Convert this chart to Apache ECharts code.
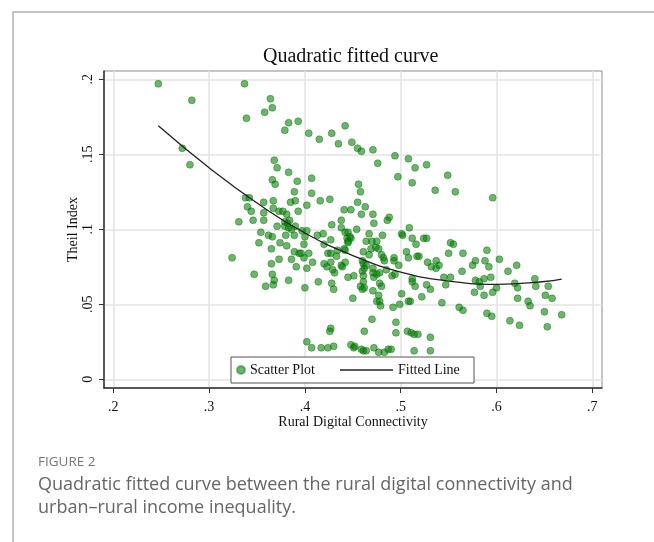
<!DOCTYPE html>
<html>
<head>
<meta charset="utf-8">
<script src="https://cdn.jsdelivr.net/npm/echarts@6/dist/echarts.min.js"></script>
<style>
html,body{margin:0;padding:0;background:#fff;}
#chart{width:654px;height:542px;}
</style>
</head>
<body>
<div id="chart"></div>
<script>
// rural digital connectivity (x) and Theil index (y)
var connectivity = [
	0.247,0.282,0.272,0.280,0.337,0.364,0.366,0.358,0.339,0.383,
	0.393,0.379,0.368,0.371,0.383,0.366,0.369,0.392,0.389,0.338,
	0.342,0.357,0.367,0.385,0.390,0.340,0.344,0.367,0.373,0.377,
	0.381,0.393,0.404,0.415,0.428,0.442,0.435,0.449,0.455,0.459,
	0.471,0.476,0.494,0.508,0.515,0.527,0.497,0.512,0.536,0.407,
	0.407,0.402,0.416,0.426,0.456,0.458,0.455,0.463,0.441,0.448,
	0.549,0.557,0.596,0.357,0.331,0.346,0.357,0.371,0.379,0.382,
	0.384,0.379,0.383,0.386,0.390,0.397,0.402,0.354,0.362,0.366,
	0.380,0.389,0.400,0.352,0.374,0.381,0.365,0.399,0.389,0.394,
	0.396,0.404,0.324,0.373,0.386,0.399,0.365,0.391,0.402,0.408,
	0.347,0.366,0.368,0.367,0.359,0.383,0.400,0.414,0.428,0.430,
	0.413,0.419,0.420,0.427,0.428,0.424,0.427,0.420,0.423,0.427,
	0.427,0.426,0.402,0.407,0.417,0.424,0.430,
	0.459,0.471,0.488,0.486,0.438,0.438,0.454,0.442,0.445,0.444,
	0.447,0.448,0.445,0.445,0.467,0.481,0.464,0.470,0.475,0.469,
	0.474,0.477,0.461,0.467,0.480,0.482,0.483,0.434,0.441,0.442,
	0.433,0.438,0.442,0.439,0.429,0.431,0.460,0.461,0.462,0.464,
	0.460,0.461,0.471,0.471,0.472,0.475,0.478,0.451,0.445,0.485,
	0.493,0.493,0.498,0.491,0.494,0.458,0.461,0.460,0.462,0.450,
	0.471,0.478,0.480,0.477,0.475,0.478,0.479,0.492,0.499,0.470,
	0.495,0.462,0.495,0.448,0.451,0.452,0.459,0.461,0.464,0.472,
	0.477,0.483,0.487,0.490,0.514,0.531,0.531,0.507,0.511,0.514,
	0.518,0.502,0.501,0.509,0.512,0.516,0.524,0.527,0.506,0.508,
	0.517,0.519,0.528,0.537,0.532,0.512,0.512,0.515,0.527,0.531,
	0.501,0.522,0.510,0.508,0.472,
	0.552,0.555,0.550,0.565,0.540,0.537,0.564,0.575,0.578,0.590,
	0.588,0.592,0.603,0.545,0.552,0.547,0.578,0.582,0.583,0.587,
	0.594,0.577,0.587,0.596,0.600,0.543,0.561,0.565,0.590,0.595,
	0.612,0.621,0.619,0.622,0.622,0.633,0.635,0.614,0.624,0.640,
	0.641,0.654,0.651,0.658,0.650,0.653,0.668
];
var theil = [
	0.197,0.186,0.154,0.143,0.197,0.187,0.181,0.178,0.174,0.171,
	0.172,0.166,0.146,0.141,0.138,0.133,0.130,0.132,0.125,0.121,
	0.121,0.118,0.119,0.118,0.119,0.115,0.112,0.114,0.112,0.112,
	0.110,0.112,0.164,0.160,0.164,0.169,0.157,0.158,0.154,0.152,
	0.153,0.144,0.149,0.147,0.141,0.143,0.135,0.131,0.126,0.134,
	0.124,0.116,0.119,0.120,0.130,0.125,0.118,0.115,0.113,0.113,
	0.136,0.125,0.121,0.111,0.105,0.106,0.106,0.102,0.105,0.104,
	0.106,0.102,0.101,0.100,0.102,0.099,0.099,0.098,0.096,0.095,
	0.096,0.096,0.095,0.091,0.091,0.089,0.087,0.090,0.085,0.084,
	0.084,0.084,0.081,0.080,0.080,0.081,0.077,0.075,0.074,0.078,
	0.070,0.070,0.066,0.063,0.062,0.066,0.061,0.065,0.064,0.060,
	0.096,0.097,0.090,0.093,0.103,0.084,0.084,0.077,0.075,0.078,
	0.034,0.032,0.025,0.021,0.021,0.021,0.022,
	0.110,0.110,0.108,0.106,0.106,0.101,0.100,0.098,0.098,0.094,
	0.095,0.094,0.092,0.091,0.097,0.096,0.092,0.092,0.092,0.087,
	0.088,0.087,0.085,0.083,0.083,0.081,0.079,0.086,0.087,0.086,
	0.082,0.076,0.078,0.075,0.073,0.071,0.079,0.077,0.074,0.076,
	0.072,0.069,0.071,0.074,0.068,0.070,0.071,0.069,0.068,0.073,
	0.081,0.079,0.076,0.069,0.070,0.062,0.065,0.060,0.061,0.054,
	0.059,0.064,0.062,0.056,0.052,0.052,0.049,0.048,0.050,0.040,
	0.038,0.032,0.031,0.023,0.021,0.022,0.020,0.019,0.019,0.021,
	0.018,0.018,0.020,0.020,0.019,0.019,0.028,0.032,0.031,0.030,
	0.030,0.096,0.097,0.101,0.094,0.090,0.094,0.094,0.085,0.081,
	0.082,0.082,0.078,0.079,0.075,0.067,0.065,0.062,0.063,0.060,
	0.057,0.055,0.052,0.052,0.104,
	0.091,0.090,0.084,0.084,0.076,0.074,0.072,0.076,0.079,0.086,
	0.079,0.075,0.080,0.068,0.068,0.063,0.066,0.065,0.062,0.067,
	0.068,0.058,0.056,0.058,0.061,0.051,0.048,0.046,0.044,0.042,
	0.072,0.076,0.064,0.061,0.054,0.052,0.049,0.039,0.036,0.067,
	0.062,0.062,0.056,0.054,0.045,0.035,0.043
];
// fitted line, read at a few x positions
var fitX = [0.247,0.30,0.35,0.40,0.45,0.50,0.55,0.60,0.65,0.668];
var fitY = [0.169,0.141,0.1175,0.0975,0.0825,0.0715,0.0655,0.0633,0.0652,0.0668];
var xTicks = [0.2,0.3,0.4,0.5,0.6,0.7];
var yTicks = [0,0.05,0.1,0.15,0.2];

var serif = 'Liberation Serif';
var myChart = echarts.init(document.getElementById('chart'));

function _dot(v){
	var s = String(Math.round(v*100)/100);
	return s.replace(/^0\./,'.');
}

var points = connectivity.map(function(v,i){ return [v,theil[i]]; });
var fitted = fitX.map(function(v,i){ return [v,fitY[i]]; });
var txt = {fontFamily:serif,fontSize:14,color:'#111'};

var option = {
	animation:false,
	title:{
		text:'Quadratic fitted curve',
		left:263,
		top:47,
		padding:0,
		textStyle:{fontFamily:serif,fontSize:20,fontWeight:'normal',color:'#111'}
	},
	grid:{
		left:104,top:71,width:498,height:317,
		show:true,borderColor:'#8c8c8c',borderWidth:1,backgroundColor:'transparent'
	},
	legend:[
		{data:['Scatter Plot'],left:236,top:363,padding:0,itemWidth:8,itemHeight:8,textStyle:txt},
		{data:[{name:'Fitted Line',icon:'rect'}],left:340,top:363,padding:0,itemWidth:53,itemHeight:1.4,textStyle:txt}
	],
	xAxis:{
		type:'value',min:0.1903,max:0.7101,
		name:'Rural Digital Connectivity',nameLocation:'middle',nameGap:27,nameMoveOverlap:false,nameTextStyle:txt,
		axisLine:{show:true,onZero:false,lineStyle:{color:'#333',width:1.5}},
		axisTick:{show:true,length:5,customValues:xTicks,lineStyle:{color:'#333'}},
		axisLabel:{customValues:xTicks,margin:12,formatter:_dot,fontFamily:serif,fontSize:14,color:'#111'},
		splitLine:{show:true,lineStyle:{color:'#e3e3e3',width:1.5}}
	},
	yAxis:{
		type:'value',min:-0.0058,max:0.2055,
		name:'Theil Index',nameLocation:'middle',nameGap:24,nameMoveOverlap:false,nameTextStyle:txt,
		axisLine:{show:true,onZero:false,lineStyle:{color:'#333',width:1.5}},
		axisTick:{show:true,length:5,customValues:yTicks,lineStyle:{color:'#333'}},
		axisLabel:{customValues:yTicks,rotate:90,margin:9,formatter:_dot,fontFamily:serif,fontSize:14,color:'#111'},
		splitLine:{show:true,lineStyle:{color:'#e3e3e3',width:1.5}}
	},
	series:[
		{
			name:'Scatter Plot',
			type:'scatter',
			data:points,
			symbolSize:7,
			itemStyle:{color:'rgba(0,128,0,0.72)',borderColor:'rgba(0,100,0,0.5)',borderWidth:1},
			z:2
		},
		{
			name:'Fitted Line',
			type:'line',
			data:fitted,
			smooth:true,
			symbol:'none',
			itemStyle:{color:'#222'},
			lineStyle:{color:'#222',width:1.3},
			z:3
		}
	],
	graphic:[
		{type:'polyline',shape:{points:[[13,542],[13,12],[654,12]]},style:{stroke:'#b3b3b3',lineWidth:1.5,fill:null}},
		{type:'rect',z:3,shape:{x:231,y:357,width:243,height:26},style:{fill:'#fff',stroke:'#555',lineWidth:1}},
		{type:'text',x:38,y:462,style:{text:'FIGURE 2',fontFamily:'Open Sans',fontSize:13.5,fill:'#777',verticalAlign:'middle'}},
		{type:'text',x:38,y:485,style:{text:'Quadratic fitted curve between the rural digital connectivity and',fontFamily:'Open Sans',fontSize:18,fill:'#666',verticalAlign:'middle'}},
		{type:'text',x:38,y:508,style:{text:'urban\u2013rural income inequality.',fontFamily:'Open Sans',fontSize:18,fill:'#666',verticalAlign:'middle'}}
	]
};
myChart.setOption(option,true);
</script>
</body>
</html>
